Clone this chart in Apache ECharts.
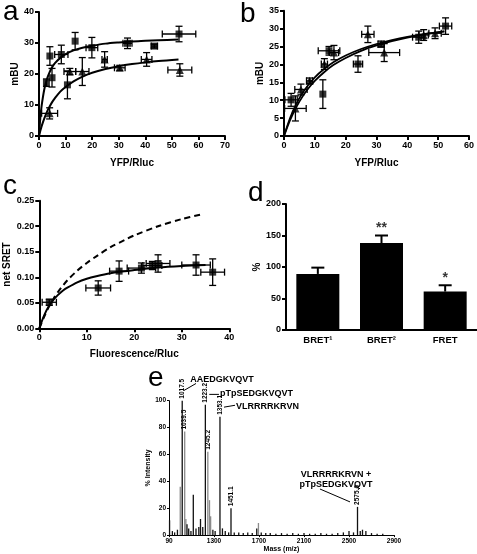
<!DOCTYPE html>
<html><head><meta charset="utf-8">
<script src="https://cdn.jsdelivr.net/npm/echarts@6/dist/echarts.min.js"></script>
<style>html,body{margin:0;padding:0;background:#fff}#c{width:477px;height:554px}</style>
</head><body><div id="c"></div><script>
// ---------- DATA ----------
// panel a: [x, y, xErr, yErr]
const aSquares = [[2.8,17.2,0,1.2],[4.1,25.8,0,3],[4.9,18.8,0,3],[8.4,26.3,2.5,3],[10.7,16.5,0,4.5],[13.6,30.6,0,2.8],[19.9,28.5,2.2,3.3],[33.3,29.9,1.7,1.7],[43.4,29.0,1.2,0.6],[52.7,32.9,6.3,2.5]];
const aTriangles = [[4.0,7.3,3,1.8],[11.6,20.8,2.2,1],[16.3,20.8,2.5,4.5],[24.7,24.7,1,2.5],[30.4,22,2,0.8],[40.5,24.7,2,2.2],[53,21.3,4.5,2]];
const aFitX = [0,0.5,1,2,3,4,5,6,8,10,13,16,20,25,30,35,40,45,52.5];
const aFitHigh = [0,5.8,9.8,15.1,18.4,20.6,22.3,23.5,25.2,26.4,27.6,28.4,29.1,29.8,30.2,30.5,30.7,30.9,31.1];
const aFitLow = [0,1.7,3.2,5.7,7.8,9.5,11,12.2,14.3,15.8,17.6,19,20.4,21.6,22.5,23.2,23.75,24.2,24.7];
// panel b
const bSquares = [[2.3,10.1,2,1.8],[12.6,11.7,0,4],[14.6,23.8,3.5,1.2],[24,20.1,1.5,2.3],[43.7,27.6,2,1.7],[52.4,30.7,2,2.3]];
const bTriangles = [[3.7,7.7,3.5,3.5],[5.5,13,2,1.5],[8.3,15.4,1,0.8],[13.1,20.1,1,1.5],[16.2,23.3,1.5,2],[27.2,28.4,2,2.3],[32.5,23.3,5,2.5],[31.5,25.7,1,0.8],[45.3,28.2,1.5,1.5],[49,28.7,2,1.5]];
const bFitX = [0,2,4,6,8,10,13,16,20,25,30,35,40,45,52];
const bFit1 = [0,5.1,9,12,14.4,16.4,18.7,20.6,22.5,24.3,25.7,26.8,27.7,28.4,29.2];
const bFit2 = [0,4.5,8.1,11,13.4,15.4,17.8,19.8,21.8,23.8,25.3,26.5,27.5,28.3,29.2];
// panel c
const cSquares = [[2.1,0.051,1.5,0.006],[12.4,0.079,2.6,0.014],[16.8,0.112,2,0.02],[21.5,0.118,3,0.01],[23.8,0.123,2,0.008],[25,0.127,2.5,0.017],[33,0.124,3,0.02],[36.5,0.11,2.5,0.026]];
const cFitX = [0,1,2,3,4,5,6,8,10,12,15,18,20,25,30,35];
const cSolid = [0,0.025,0.043,0.056,0.066,0.074,0.08,0.09,0.097,0.102,0.108,0.112,0.114,0.119,0.122,0.124];
const cDashX = [0,1,2,3,4,5,6,8,10,12,15,18,20,25,30,34];
const cDashed = [0,0.022,0.042,0.058,0.072,0.084,0.095,0.113,0.128,0.141,0.159,0.173,0.182,0.2,0.214,0.223];
// panel d
const dCategories = ['BRET\u00b9','BRET\u00b2','FRET'];
const dValues = [89,138,61];
const dErrors = [10,12,10];
const dSignificance = ['','**','*'];
// panel e: [mass, % intensity]
const ePeaksDark = [[905,11],[930,3],[950,2],[975,4],[1017.5,100],[1060,8],[1075,5],[1095,3],[1116,30],[1140,5],[1165,6],[1180,12],[1200,6],[1223.2,97],[1290,4],[1310,3],[1353.1,88],[1375,5],[1400,3],[1430,2],[1451.1,20],[1480,2],[1520,2],[1560,1.5],[1600,2],[1640,1.5],[1680,5],[1720,2],[1760,1.5],[1800,1.5],[1850,1],[1900,1.5],[1950,1],[2000,1.5],[2050,1],[2100,1.5],[2150,1],[2200,1],[2250,1.5],[2300,1],[2350,1],[2400,1.5],[2450,2],[2500,3],[2540,2],[2575.6,21],[2600,3],[2620,4],[2650,3],[2700,1.5],[2750,1],[2800,1]];
const ePeaksGrey = [[1000,36],[1039.5,77],[1050,12],[1245.2,62],[1260,26],[1270,14],[1695,9]];
const eLabelledMasses = [1017.5,1039.5,1223.2,1245.2,1353.1,1451.1,2575.6];
const eMassTicks = {900:'90',1300:'1300',1700:'1700',2100:'2100',2500:'2500',2900:'2900'};
const ePeptides = ['AAEDGKVQVT','pTpSEDGKVQVT','VLRRRRKRVN','VLRRRRKRVN +','pTpSEDGKVQVT'];

// ---------- CHART ----------
const FF = 'Liberation Sans';
const chart = echarts.init(document.getElementById('c'), null, {renderer:'canvas'});

function axisBase(gi, extra){
  return Object.assign({
    gridIndex: gi, type:'value', nameLocation:'middle',
    nameTextStyle:{fontFamily:FF,fontWeight:'bold',fontSize:10,color:'#000'},
    axisLine:{show:true,onZero:false,lineStyle:{color:'#000',width:2}},
    axisTick:{show:true,length:4,lineStyle:{color:'#000',width:2}},
    axisLabel:{fontFamily:FF,fontWeight:'bold',fontSize:9,color:'#000',margin:5},
    splitLine:{show:false}
  }, extra);
}
function errRender(params, api){
  const x=api.value(0), y=api.value(1), ex=api.value(2), ey=api.value(3);
  const cap=3.5, st={stroke:'#000',lineWidth:1.3};
  const ch=[];
  if(ey>0){
    const t=api.coord([x,y+ey]), b=api.coord([x,y-ey]);
    ch.push({type:'line',shape:{x1:t[0],y1:t[1],x2:b[0],y2:b[1]},style:st});
    ch.push({type:'line',shape:{x1:t[0]-cap,y1:t[1],x2:t[0]+cap,y2:t[1]},style:st});
    ch.push({type:'line',shape:{x1:b[0]-cap,y1:b[1],x2:b[0]+cap,y2:b[1]},style:st});
  }
  if(ex>0){
    const l=api.coord([x-ex,y]), r=api.coord([x+ex,y]);
    ch.push({type:'line',shape:{x1:l[0],y1:l[1],x2:r[0],y2:r[1]},style:st});
    ch.push({type:'line',shape:{x1:l[0],y1:l[1]-cap,x2:l[0],y2:l[1]+cap},style:st});
    ch.push({type:'line',shape:{x1:r[0],y1:r[1]-cap,x2:r[0],y2:r[1]+cap},style:st});
  }
  return {type:'group',children:ch};
}
function errSeries(gi, data){
  return {type:'custom',xAxisIndex:gi,yAxisIndex:gi,renderItem:errRender,data:data,encode:{x:0,y:1},z:2,silent:true};
}
function pts(gi, data, sym, size){
  return {type:'scatter',xAxisIndex:gi,yAxisIndex:gi,symbol:sym,symbolSize:size,itemStyle:{color:'#000'},data:data.map(d=>[d[0],d[1]]),z:4,silent:true};
}
function fit(gi, xs, ys, dashed, w){
  return {type:'line',xAxisIndex:gi,yAxisIndex:gi,data:xs.map((x,i)=>[x,ys[i]]),showSymbol:false,symbol:'none',smooth:0.3,
    lineStyle:{color:'#000',width:w||2,type:dashed?[6,4]:'solid',cap:'butt',join:'round'},z:3,silent:true};
}
function peakData(arr){
  return arr.map(p=>{
    const lab = eLabelledMasses.indexOf(p[0])>=0;
    return {value:p, label:{show:lab}};
  });
}
const peakLabel = {show:false,position:'top',rotate:90,align:'left',verticalAlign:'middle',distance:2,
  fontFamily:FF,fontWeight:'bold',fontSize:6.5,color:'#000',formatter:p=>p.value[0].toFixed(1)};

const option = {
  animation:false,
  textStyle:{fontFamily:FF},
  grid:[
    {left:39,top:12,width:186,height:124},
    {left:284,top:10.7,width:187,height:125.3},
    {left:39.3,top:200.7,width:190,height:127.6},
    {left:286,top:204,width:194,height:126},
    {left:169,top:400.7,width:225,height:136.3}
  ],
  xAxis:[
    axisBase(0,{min:0,max:70,interval:10,name:'YFP/Rluc',nameGap:22}),
    axisBase(1,{min:0,max:60,interval:10,name:'YFP/Rluc',nameGap:22}),
    axisBase(2,{min:0,max:40,interval:10,name:'Fluorescence/Rluc',nameGap:21}),
    axisBase(3,{type:'category',data:dCategories,name:'',axisTick:{show:false},
      axisLabel:{fontFamily:FF,fontWeight:'bold',fontSize:9.5,color:'#000',margin:5}}),
    axisBase(4,{min:900,max:2900,interval:400,name:'Mass (m/z)',nameGap:8,
      nameTextStyle:{fontFamily:FF,fontWeight:'bold',fontSize:7,color:'#000'},
      axisLine:{show:true,onZero:false,lineStyle:{color:'#000',width:1}},
      axisTick:{show:true,length:2,lineStyle:{color:'#000',width:1}},
      axisLabel:{fontFamily:FF,fontWeight:'bold',fontSize:6.5,color:'#000',margin:3,formatter:v=>eMassTicks[v]||''}})
  ],
  yAxis:[
    axisBase(0,{min:0,max:40,interval:10,name:'mBU',nameGap:19}),
    axisBase(1,{min:0,max:35,interval:5,name:'mBU',nameGap:19}),
    axisBase(2,{min:0,max:0.25,interval:0.05,name:'net SRET',nameGap:27,axisLabel:{fontFamily:FF,fontWeight:'bold',fontSize:9,color:'#000',margin:5,formatter:v=>v.toFixed(2)}}),
    axisBase(3,{min:0,max:200,interval:50,name:'%',nameGap:24}),
    axisBase(4,{min:0,max:100,interval:20,name:'% Intensity',nameGap:11,
      nameTextStyle:{fontFamily:FF,fontWeight:'bold',fontSize:7,color:'#000'},
      axisLine:{show:true,onZero:false,lineStyle:{color:'#000',width:1}},
      axisTick:{show:true,length:2,lineStyle:{color:'#000',width:1}},
      axisLabel:{fontFamily:FF,fontWeight:'bold',fontSize:6.5,color:'#000',margin:3}})
  ],
  series:[
    // a
    errSeries(0,aSquares), errSeries(0,aTriangles),
    fit(0,aFitX,aFitHigh), fit(0,aFitX,aFitLow),
    pts(0,aSquares,'rect',7), pts(0,aTriangles,'triangle',8),
    // b
    errSeries(1,bSquares), errSeries(1,bTriangles),
    fit(1,bFitX,bFit1,false,1.8), fit(1,bFitX,bFit2,false,1.8),
    pts(1,bSquares,'rect',7), pts(1,bTriangles,'triangle',8),
    // c
    errSeries(2,cSquares),
    fit(2,cFitX,cSolid), fit(2,cDashX,cDashed,true),
    pts(2,cSquares,'rect',7),
    // d
    {type:'bar',xAxisIndex:3,yAxisIndex:3,data:dValues,barWidth:43,itemStyle:{color:'#000'},z:3,silent:true},
    {type:'custom',xAxisIndex:3,yAxisIndex:3,z:2,silent:true,
      data:dValues.map((v,i)=>[i,v,dErrors[i]]),encode:{x:0,y:1},
      renderItem:(p,api)=>{
        const i=api.value(0), v=api.value(1), e=api.value(2);
        const b=api.coord([i,v]), t=api.coord([i,v+e]);
        const st={stroke:'#000',lineWidth:2};
        return {type:'group',children:[
          {type:'line',shape:{x1:b[0],y1:b[1],x2:t[0],y2:t[1]},style:st},
          {type:'line',shape:{x1:t[0]-6.5,y1:t[1],x2:t[0]+6.5,y2:t[1]},style:st}]};
      }},
    {type:'scatter',xAxisIndex:3,yAxisIndex:3,symbolSize:0,silent:true,
      data:dValues.map((v,i)=>[i,v+dErrors[i]]),
      label:{show:true,position:'top',distance:0,fontFamily:FF,fontWeight:'bold',fontSize:14,color:'#000',
        formatter:p=>dSignificance[p.dataIndex]}},
    // e
    {type:'bar',xAxisIndex:4,yAxisIndex:4,barWidth:1.3,barGap:'-100%',itemStyle:{color:'#8a8a8a'},
      data:peakData(ePeaksGrey),label:peakLabel,silent:true,z:2},
    {type:'bar',xAxisIndex:4,yAxisIndex:4,barWidth:1.3,barGap:'-100%',itemStyle:{color:'#111'},
      data:peakData(ePeaksDark),label:peakLabel,silent:true,z:3}
  ]
};
chart.setOption(option);

// ---------- annotations (positioned through the axes' scales) ----------
function px(m,v){return chart.convertToPixel({xAxisIndex:4,yAxisIndex:4},[m,v]);}
const pepFont = {fontFamily:FF,fontWeight:'bold',fontSize:9,fill:'#000'};
const notes = [
  {t:ePeptides[0],at:[1371,115.7],align:'center'},
  {t:ePeptides[1],at:[1353,105.3],align:'left'},
  {t:ePeptides[2],at:[1496,95.9],align:'left'},
  {t:ePeptides[3],at:[2384,45.3],align:'center'},
  {t:ePeptides[4],at:[2384,38],align:'center'}
];
const leaders = [
  [[1140,112.8],[1033,107.6]],
  [[1344,104.7],[1258,104.7]],
  [[1487,96.6],[1389,95.2]],
  [[2242,34.3],[2509,24.7]]
];
const g = [];
notes.forEach(n=>{
  const p=px(n.at[0],n.at[1]);
  g.push({type:'text',x:p[0],y:p[1],silent:true,style:Object.assign({text:n.t,align:n.align,verticalAlign:'middle'},pepFont)});
});
leaders.forEach(l=>{
  const a=px(l[0][0],l[0][1]), b=px(l[1][0],l[1][1]);
  g.push({type:'line',silent:true,shape:{x1:a[0],y1:a[1],x2:b[0],y2:b[1]},style:{stroke:'#000',lineWidth:1}});
});
const letterFont = {fontFamily:FF,fontSize:28,fill:'#000'};
[['a',3,-1.5],['b',240,0.5],['c',3,172],['d',248,179],['e',148,364]].forEach(L=>{
  g.push({type:'text',x:L[1],y:L[2],silent:true,style:Object.assign({text:L[0],verticalAlign:'top'},letterFont)});
});
chart.setOption({graphic:g});
</script></body></html>
